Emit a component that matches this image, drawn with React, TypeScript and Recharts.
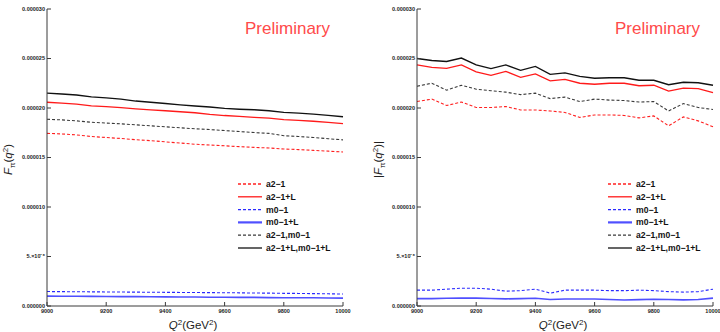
import React from 'react';
import { LineChart, Line, XAxis, YAxis, Legend, Label } from 'recharts';

const qValues = [9000, 9050, 9100, 9150, 9200, 9250, 9300, 9350, 9400, 9450, 9500, 9550, 9600, 9650, 9700, 9750, 9800, 9850, 9900, 9950, 10000];

// left panel (units of 1e-6)
const leftA21 = [17.44, 17.38, 17.28, 17.12, 17.02, 16.92, 16.8, 16.7, 16.58, 16.46, 16.34, 16.26, 16.18, 16.1, 16.02, 15.96, 15.86, 15.8, 15.72, 15.64, 15.56];
const leftA21L = [20.58, 20.5, 20.4, 20.22, 20.14, 20.04, 19.92, 19.82, 19.72, 19.62, 19.52, 19.36, 19.24, 19.16, 19.06, 18.98, 18.82, 18.76, 18.66, 18.54, 18.42];
const leftM01 = [1.46, 1.45, 1.44, 1.43, 1.42, 1.41, 1.4, 1.39, 1.38, 1.37, 1.36, 1.35, 1.34, 1.33, 1.31, 1.3, 1.28, 1.27, 1.25, 1.23, 1.21];
const leftM01L = [1.0, 0.99, 0.99, 0.97, 0.96, 0.95, 0.95, 0.93, 0.92, 0.91, 0.91, 0.89, 0.88, 0.87, 0.87, 0.85, 0.84, 0.83, 0.83, 0.81, 0.8];
const leftBoth = [18.86, 18.8, 18.7, 18.56, 18.48, 18.4, 18.3, 18.2, 18.1, 18.0, 17.9, 17.82, 17.72, 17.62, 17.52, 17.44, 17.2, 17.12, 17.02, 16.9, 16.78];
const leftBothL = [21.5, 21.42, 21.32, 21.12, 21.02, 20.9, 20.7, 20.58, 20.46, 20.32, 20.2, 20.1, 19.96, 19.88, 19.82, 19.72, 19.56, 19.48, 19.38, 19.26, 19.12];

// right panel (units of 1e-6)
const rightA21 = [20.65, 20.9, 20.25, 20.6, 20.05, 20.05, 20.15, 19.8, 19.8, 19.7, 19.55, 19.05, 19.3, 19.3, 19.25, 19.0, 19.2, 18.2, 19.1, 18.7, 18.1];
const rightA21L = [24.35, 24.1, 24.0, 24.35, 23.65, 23.3, 23.7, 23.1, 23.45, 22.75, 22.9, 22.5, 22.4, 22.5, 22.5, 22.25, 22.3, 21.7, 22.0, 21.95, 21.55];
const rightM01 = [1.6, 1.6, 1.7, 1.8, 1.8, 1.7, 1.5, 1.55, 1.7, 1.3, 1.6, 1.6, 1.6, 1.55, 1.55, 1.6, 1.55, 1.45, 1.4, 1.45, 1.7];
const rightM01L = [0.75, 0.75, 0.78, 0.8, 0.8, 0.76, 0.72, 0.74, 0.78, 0.65, 0.7, 0.7, 0.7, 0.66, 0.6, 0.64, 0.68, 0.66, 0.62, 0.66, 0.8];
const rightBoth = [22.2, 22.5, 21.8, 22.3, 21.9, 21.75, 21.6, 21.35, 21.5, 20.95, 21.1, 20.65, 20.9, 20.8, 20.75, 20.6, 20.65, 19.7, 20.45, 20.05, 19.85];
const rightBothL = [25.0, 24.8, 24.7, 25.05, 24.35, 23.98, 24.35, 23.8, 24.2, 23.4, 23.55, 23.2, 23.0, 23.05, 23.05, 22.8, 22.8, 22.35, 22.6, 22.55, 22.3];

const xMajorTicks = [9000, 9200, 9400, 9600, 9800, 10000];
const xMinorTicks = [9000, 9050, 9100, 9150, 9200, 9250, 9300, 9350, 9400, 9450, 9500, 9550, 9600, 9650, 9700, 9750, 9800, 9850, 9900, 9950, 10000];
const yMajorTicks = [0, 5, 10, 15, 20, 25, 30];
const yTickLabels = ['0.000000', '5.\u00d710\u207b\u2076', '0.000010', '0.000015', '0.000020', '0.000025', '0.000030'];
const yMinorTicks = [0, 1, 2, 3, 4, 5, 6, 7, 8, 9, 10, 11, 12, 13, 14, 15, 16, 17, 18, 19, 20, 21, 22, 23, 24, 25, 26, 27, 28, 29, 30];

const seriesNames = ['a2\u22121', 'a2\u22121+L', 'm0\u22121', 'm0\u22121+L', 'a2\u22121,m0\u22121', 'a2\u22121+L,m0\u22121+L'];
const seriesKeys = ['a21', 'a21L', 'm01', 'm01L', 'both', 'bothL'];
const seriesColors = ['#ff2020', '#ff1a1a', '#2a2aff', '#4f4fff', '#3a3a3a', '#111111'];
const seriesDash = ['3 2', '', '3 2', '', '3 2', ''];
const seriesWidth = [1.1, 1.3, 1.1, 1.6, 1.1, 1.4];

const build = (cols: number[][]) =>
  qValues.map((q, i) => {
    const row: Record<string, number> = { q };
    seriesKeys.forEach((k, j) => {
      row[k] = cols[j][i];
    });
    return row;
  });

const leftData = build([leftA21, leftA21L, leftM01, leftM01L, leftBoth, leftBothL]);
const rightData = build([rightA21, rightA21L, rightM01, rightM01L, rightBoth, rightBothL]);

const FONT = '"Liberation Sans", Arial, sans-serif';
const FRAME = '#3a3a3a';
const tickFont = { fontSize: 5.5, fontWeight: 700, fill: '#222', fontFamily: FONT };

const yFmt = (v: number) => {
  const i = yMajorTicks.indexOf(v);
  return i >= 0 ? yTickLabels[i] : '';
};

const LegendBox = (props: any) => {
  const { lineX, textX } = props;
  return (
    <svg width={110} height={80} style={{ display: 'block' }}>
      {seriesNames.map((n, i) => {
        const y = 6 + i * 12.8;
        return (
          <g key={n}>
            <line x1={lineX} x2={lineX + 24} y1={y} y2={y} stroke={seriesColors[i]} strokeWidth={i === 3 ? 2.2 : 1.3} strokeDasharray={seriesDash[i] || undefined} />
            <text x={textX} y={y + 3} fontSize={8.6} fontWeight={600} fontFamily={FONT} fill="#111">{n}</text>
          </g>
        );
      })}
    </svg>
  );
};

const XTitle = (props: any) => {
  const vb = props.viewBox || {};
  const cx = vb.x + vb.width / 2 - 2;
  return (
    <text x={cx} y={vb.y + 23} textAnchor="middle" fontSize={11.5} fontFamily={FONT} fill="#222">
      <tspan fontStyle="italic">Q</tspan>
      <tspan dy={-4} fontSize={8}>2</tspan>
      <tspan dy={4}>(GeV</tspan>
      <tspan dy={-4} fontSize={8}>2</tspan>
      <tspan dy={4}>)</tspan>
    </text>
  );
};

const makeYTitle = (abs: boolean, x: number) => (props: any) => {
  const vb = props.viewBox || {};
  const cy = vb.y + vb.height / 2 + 2;
  return (
    <text x={x} y={cy} transform={`rotate(-90 ${x} ${cy})`} textAnchor="middle" fontSize={11.5} fontFamily={FONT} fill="#222">
      {abs ? '|' : ''}
      <tspan fontStyle="italic">F</tspan>
      <tspan dy={3} fontSize={8}>{'\u03c0'}</tspan>
      <tspan dy={-3}>(</tspan>
      <tspan fontStyle="italic">q</tspan>
      <tspan dy={-4} fontSize={8}>2</tspan>
      <tspan dy={4}>)</tspan>
      {abs ? '|' : ''}
    </text>
  );
};

const Panel = (props: any) => {
  const { data, yAxisWidth, rightMargin, abs, titleX, legendLeft } = props;
  return (
    <LineChart width={360} height={332} data={data} margin={{ top: 9, right: rightMargin, bottom: 0, left: 0 }}>
      <XAxis xAxisId="xm" dataKey="q" type="number" domain={[9000, 10000]} ticks={xMinorTicks} tick={false} tickSize={-2} axisLine={false} height={0} stroke={FRAME} />
      <XAxis xAxisId="x" dataKey="q" type="number" domain={[9000, 10000]} ticks={xMajorTicks} tickSize={-4} tickMargin={7} height={26} stroke={FRAME} tick={tickFont} interval={0}>
        <Label content={<XTitle />} />
      </XAxis>
      <XAxis xAxisId="xt" orientation="top" dataKey="q" type="number" domain={[9000, 10000]} ticks={xMajorTicks} tick={false} tickSize={-4} height={0} stroke={FRAME} />
      <XAxis xAxisId="xtm" orientation="top" dataKey="q" type="number" domain={[9000, 10000]} ticks={xMinorTicks} tick={false} tickSize={-2} axisLine={false} height={0} stroke={FRAME} />
      <YAxis yAxisId="ym" type="number" domain={[0, 30]} ticks={yMinorTicks} tick={false} tickSize={-2} axisLine={false} width={0} stroke={FRAME} />
      <YAxis yAxisId="y" type="number" domain={[0, 30]} ticks={yMajorTicks} tickFormatter={yFmt} tickSize={-4} tickMargin={6} width={yAxisWidth} stroke={FRAME} tick={tickFont} interval={0}>
        <Label content={makeYTitle(abs, titleX)} />
      </YAxis>
      <YAxis yAxisId="yr" orientation="right" type="number" domain={[0, 30]} ticks={yMajorTicks} tick={false} tickSize={-4} width={0} stroke={FRAME} />
      <YAxis yAxisId="yrm" orientation="right" type="number" domain={[0, 30]} ticks={yMinorTicks} tick={false} tickSize={-2} axisLine={false} width={0} stroke={FRAME} />
      {seriesKeys.map((k, i) => (
        <Line
          key={k}
          xAxisId="x"
          yAxisId="y"
          type="linear"
          dataKey={k}
          name={seriesNames[i]}
          stroke={seriesColors[i]}
          strokeWidth={seriesWidth[i]}
          strokeDasharray={seriesDash[i] || undefined}
          dot={false}
          activeDot={false}
          isAnimationActive={false}
        />
      ))}
      <Legend
        layout="vertical"
        align="center"
        verticalAlign="middle"
        content={<LegendBox lineX={0} textX={28} />}
        wrapperStyle={{ left: legendLeft, top: 178, width: 110, height: 80 }}
      />
    </LineChart>
  );
};

const Preliminary = (props: { left: number }) => (
  <svg width={110} height={30} style={{ position: 'absolute', left: props.left, top: 14 }}>
    <text x={0} y={20} fontSize={17} fontFamily={FONT} fill="#ff4a4a">Preliminary</text>
  </svg>
);

export default function App() {
  return (
    <div style={{ position: 'absolute', left: 0, top: 0, width: 720, height: 332, background: '#fff', overflow: 'hidden' }}>
      <div style={{ position: 'absolute', left: 0, top: 0, width: 360, height: 332 }}>
        <Panel data={leftData} yAxisWidth={47} rightMargin={17} abs={false} titleX={12} legendLeft={238} />
      </div>
      <div style={{ position: 'absolute', left: 360, top: 0, width: 360, height: 332 }}>
        <Panel data={rightData} yAxisWidth={57} rightMargin={7} abs={true} titleX={22} legendLeft={248} />
      </div>
      <Preliminary left={245} />
      <Preliminary left={615} />
    </div>
  );
}
